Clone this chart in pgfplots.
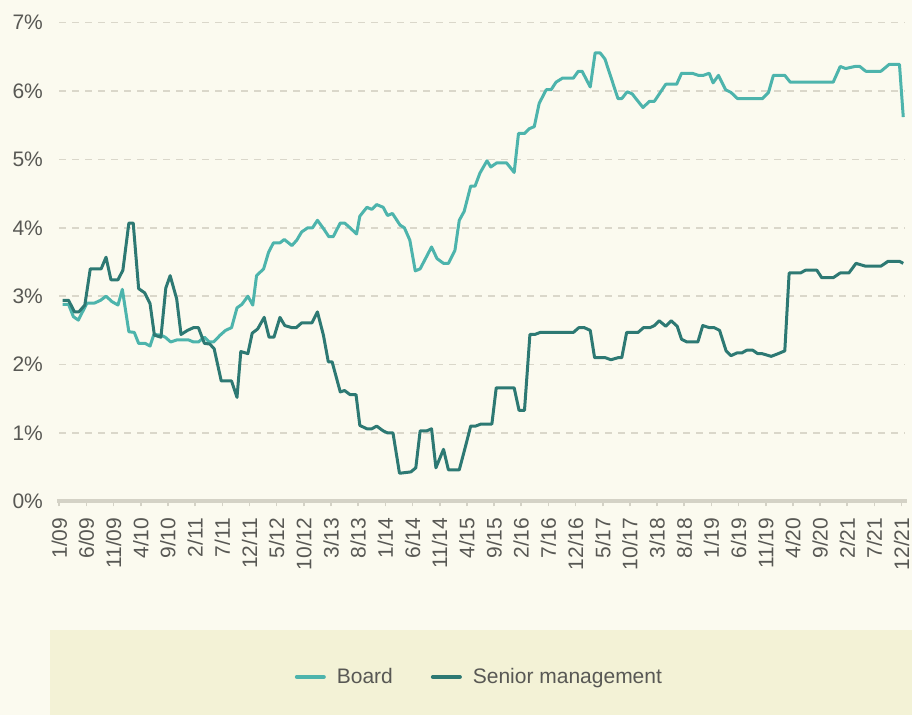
\documentclass[border=0pt]{standalone}
\usepackage{pgfplots}
\pgfplotsset{compat=1.18}
\usepackage{fontspec}
\setmainfont{Liberation Sans}
\definecolor{bg}{RGB}{251,250,239}
\definecolor{legbg}{RGB}{243,242,214}
\definecolor{board}{RGB}{77,180,172}
\definecolor{senior}{RGB}{45,121,115}
\definecolor{txt}{RGB}{88,88,84}
\definecolor{gridc}{RGB}{218,215,202}
\definecolor{axisc}{RGB}{212,210,198}
\begin{document}
\begin{tikzpicture}
\fill[bg] (-29.65pt,-106.85pt) rectangle (426.35pt,250.65pt);
\fill[legbg] (-4.65pt,-106.85pt) rectangle (426.35pt,-64.35pt);
\begin{axis}[
  scale only axis,
  width=422.8pt, height=239.3pt,
  xmin=-0.6, xmax=155, ymin=0, ymax=7,
  axis x line*=bottom, axis y line*=left,
  y axis line style={draw=none},
  x axis line style={draw=axisc, line width=2pt, shorten <=-1pt, shorten >=-1pt},
  ytick={0,1,2,3,4,5,6,7},
  yticklabels={0\%,1\%,2\%,3\%,4\%,5\%,6\%,7\%},
  ytick style={draw=none},
  yticklabel style={inner sep=0pt, xshift=-5.5pt, font=\fontsize{10.5}{12}\selectfont, text=txt},
  xtick={-0.6,4.4,9.4,14.4,19.4,24.4,29.4,34.4,39.4,44.4,49.4,54.4,59.4,64.4,69.4,74.4,79.4,84.4,89.4,94.4,99.4,104.4,109.4,114.4,119.4,124.4,129.4,134.4,139.4,144.4,149.4,154.4},
  xticklabels={1/09,6/09,11/09,4/10,9/10,2/11,7/11,12/11,5/12,10/12,3/13,8/13,1/14,6/14,11/14,4/15,9/15,2/16,7/16,12/16,5/17,10/17,3/18,8/18,1/19,6/19,11/19,4/20,9/20,2/21,7/21,12/21},
  xticklabel style={rotate=90, anchor=east, inner sep=0pt, font=\fontsize{10.5}{12}\selectfont, text=txt},
  xticklabel shift=5.5pt,
  tick align=outside,
  major tick length=2.5pt,
  xtick style={draw=axisc, line width=0.8pt},
  ymajorgrids,
  major grid style={draw=gridc, line width=0.7pt, dash pattern=on 3.5pt off 3pt},
  legend columns=2,
  legend style={draw=none, fill=none, at={(0.498,-0.367)}, anchor=center,
    font=\fontsize{10.5}{12}\selectfont, text=txt,
    /tikz/every even column/.append style={column sep=17pt}},
  legend image code/.code={\path[draw=none,fill=none] (0pt,0pt) -- (18pt,0pt);\draw[#1, line width=2pt, line cap=round] (0pt,0pt) -- (13.5pt,0pt);},
  every axis plot/.append style={line width=1.5pt, line join=round},
]
\addplot[board] coordinates {
(0,2.88)(1.1,2.88)(2.0,2.70)(2.9,2.65)(4.5,2.90)(5.9,2.90)(7.0,2.94)(8.0,3.00)(9.1,2.92)(10.2,2.87)
(11.0,3.10)(12.2,2.48)(13.2,2.47)(14.0,2.31)(15.2,2.31)(16.1,2.27)(16.8,2.44)(18.1,2.43)(18.9,2.40)(19.9,2.33)
(21.0,2.36)(23.2,2.36)(24.1,2.33)(25.0,2.33)(26.1,2.40)(27.0,2.33)(27.8,2.33)(29.0,2.43)(30.0,2.50)(31.1,2.54)
(32.1,2.83)(33.0,2.88)(34.1,3.00)(35.0,2.87)(35.7,3.30)(37.0,3.40)(37.9,3.64)(38.8,3.78)(40.0,3.78)(40.8,3.83)
(42.2,3.74)(43.1,3.82)(44.0,3.94)(45.1,4.00)(46.0,4.00)(46.9,4.11)(48.0,3.99)(49.0,3.87)(49.8,3.87)(51.1,4.07)
(51.9,4.07)(52.9,4.00)(54.1,3.91)(54.7,4.17)(56.0,4.30)(56.9,4.27)(57.8,4.34)(59.0,4.30)(59.8,4.18)(60.7,4.21)
(62.1,4.04)(62.9,4.00)(63.9,3.82)(64.9,3.37)(65.8,3.40)(67.9,3.72)(68.9,3.55)(70.1,3.48)(71.0,3.48)(72.2,3.67)
(73.0,4.11)(73.9,4.24)(75.1,4.61)(75.9,4.61)(76.8,4.80)(78.1,4.98)(78.8,4.89)(79.9,4.95)(81.7,4.95)(83.1,4.81)
(83.9,5.38)(85.0,5.38)(85.9,5.45)(86.8,5.48)(87.7,5.82)(89.0,6.02)(89.9,6.02)(90.8,6.13)(92.0,6.19)(94.0,6.19)
(94.9,6.29)(95.6,6.29)(97.1,6.06)(98.0,6.56)(98.9,6.56)(99.8,6.47)(102.2,5.89)(102.9,5.89)(103.9,5.99)(104.8,5.96)
(105.7,5.87)(106.8,5.76)(108.0,5.85)(108.9,5.85)(111.0,6.10)(113.0,6.10)(113.9,6.26)(115.9,6.26)(117.0,6.23)(117.9,6.23)
(119.0,6.26)(119.7,6.12)(120.7,6.23)(122.0,6.02)(123.0,5.98)(124.2,5.89)(128.8,5.89)(129.9,5.98)(130.8,6.23)(132.9,6.23)
(133.9,6.13)(141.8,6.13)(143.1,6.36)(144.1,6.33)(145.8,6.36)(146.7,6.36)(147.8,6.29)(150.6,6.29)(152.1,6.39)(154.0,6.39)
(154.7,5.62)
};
\addlegendentry{Board}
\addplot[senior] coordinates {
(0,2.94)(1.1,2.94)(2.2,2.77)(3.0,2.77)(4.1,2.87)(5.1,3.40)(7.1,3.40)(8.0,3.57)(8.9,3.24)(10.2,3.24)
(11.1,3.38)(12.2,4.07)(13.0,4.07)(14.0,3.11)(15.1,3.05)(16.1,2.89)(16.9,2.43)(18.1,2.40)(19.0,3.12)(19.8,3.30)
(21.0,2.96)(21.8,2.44)(23.0,2.50)(24.1,2.54)(25.0,2.54)(26.1,2.31)(27.1,2.30)(27.9,2.23)(29.2,1.76)(31.1,1.76)
(32.1,1.52)(32.8,2.19)(34.1,2.16)(34.9,2.46)(35.9,2.52)(37.1,2.69)(38.0,2.40)(38.9,2.40)(40.0,2.69)(40.9,2.57)
(42.2,2.54)(43.0,2.54)(44.0,2.61)(45.9,2.61)(46.9,2.77)(48.0,2.43)(48.9,2.04)(49.6,2.04)(51.1,1.60)(51.9,1.62)
(52.9,1.56)(54.0,1.56)(54.7,1.11)(56.0,1.06)(56.9,1.06)(57.8,1.10)(59.0,1.03)(59.8,1.00)(60.8,1.00)(62.0,0.41)
(64.1,0.43)(65.0,0.49)(65.8,1.03)(67.0,1.03)(67.9,1.06)(68.7,0.49)(70.1,0.76)(71.0,0.46)(73.0,0.46)(74.1,0.79)
(75.1,1.10)(76.0,1.10)(77.0,1.13)(79.0,1.13)(79.8,1.66)(83.1,1.66)(84.0,1.33)(85.0,1.33)(86.0,2.44)(86.9,2.44)
(87.9,2.47)(94.0,2.47)(95.0,2.54)(96.0,2.54)(97.1,2.50)(97.9,2.10)(99.9,2.10)(100.9,2.07)(102.2,2.10)(102.9,2.10)
(103.8,2.47)(105.9,2.47)(106.9,2.54)(108.1,2.54)(108.9,2.57)(109.8,2.64)(111.0,2.56)(112.0,2.64)(113.1,2.56)(113.9,2.37)
(114.9,2.33)(116.9,2.33)(117.8,2.57)(119.0,2.54)(119.9,2.54)(120.9,2.50)(122.1,2.20)(123.0,2.13)(124.1,2.17)(125.0,2.17)
(125.9,2.21)(127.0,2.21)(127.9,2.16)(128.7,2.16)(130.4,2.12)(131.7,2.16)(132.9,2.20)(133.7,3.34)(135.8,3.34)(136.7,3.38)
(138.8,3.38)(139.7,3.27)(141.8,3.27)(143.1,3.34)(144.7,3.34)(146.0,3.48)(147.7,3.44)(150.6,3.44)(151.9,3.51)(154.0,3.51)
(154.7,3.48)
};
\addlegendentry{Senior management}
\end{axis}
\pgfresetboundingbox
\useasboundingbox (-29.65pt,-106.85pt) rectangle (426.35pt,250.65pt);
\end{tikzpicture}
\end{document}
